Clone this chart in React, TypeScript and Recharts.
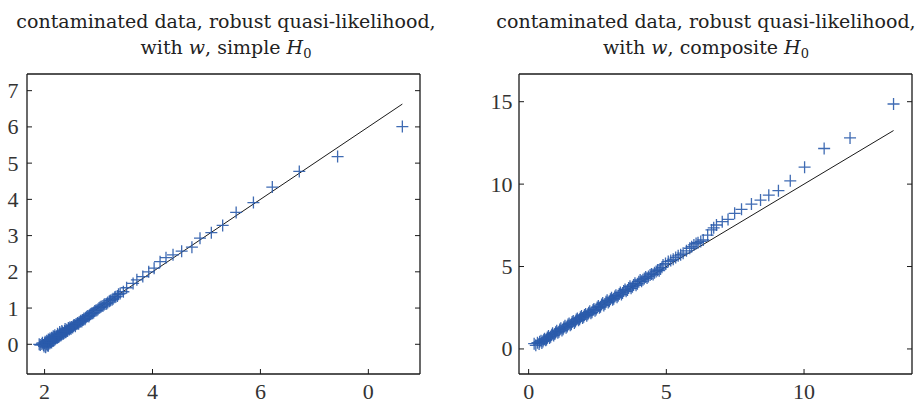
import React from 'react';
import { ScatterChart, Scatter, XAxis, YAxis, ReferenceLine } from 'recharts';

// left panel: simple H0 (sparser sample + extra points in the dense band)
const leftX = [
  1.90, 1.95, 1.98, 2.00, 2.02, 2.03, 2.05, 2.06, 2.08, 2.09, 2.11, 2.12, 2.14, 2.15, 2.17, 2.18,
  2.20, 2.22, 2.23, 2.25, 2.27, 2.29, 2.31, 2.33, 2.35, 2.37, 2.39, 2.41, 2.43, 2.45, 2.48, 2.50,
  2.53, 2.55, 2.58, 2.61, 2.64, 2.67, 2.70, 2.73, 2.76, 2.80, 2.83, 2.87, 2.91, 2.95, 2.99, 3.03,
  3.08, 3.12, 3.17, 3.22, 3.27, 3.32, 3.37, 3.40, 3.46, 3.52, 3.64, 3.71, 3.82, 3.93, 4.03, 4.14,
  4.25, 4.38, 4.54, 4.73, 4.88, 5.09, 5.30, 5.55, 5.87, 6.22, 6.72, 7.43, 8.63,
];
const leftY = [
  0.00, 0.01, -0.02, 0.03, -0.08, 0.05, -0.03, 0.08, 0.02, 0.12, 0.06, 0.14, 0.09, 0.17, 0.12, 0.20,
  0.16, 0.21, 0.18, 0.26, 0.22, 0.30, 0.27, 0.33, 0.30, 0.37, 0.33, 0.40, 0.38, 0.43, 0.44, 0.48,
  0.50, 0.53, 0.55, 0.59, 0.61, 0.65, 0.67, 0.71, 0.73, 0.78, 0.80, 0.85, 0.88, 0.93, 0.97, 1.02,
  1.06, 1.11, 1.15, 1.21, 1.26, 1.31, 1.38, 1.40, 1.45, 1.56, 1.68, 1.78, 1.87, 2.00, 2.10, 2.28,
  2.39, 2.47, 2.57, 2.68, 2.93, 3.08, 3.28, 3.64, 3.91, 4.34, 4.77, 5.18, 6.01,
];
const leftX2 = [
  1.92, 1.96, 1.99, 2.01, 2.04, 2.04, 2.07, 2.07, 2.10, 2.10, 2.13, 2.13, 2.16, 2.16, 2.19, 2.19,
  2.21, 2.24, 2.24, 2.26, 2.28, 2.28, 2.30, 2.32, 2.32, 2.34, 2.36, 2.38, 2.38, 2.40, 2.42, 2.44,
  2.46, 2.47, 2.49, 2.52, 2.54, 2.57, 2.60, 2.63, 2.66, 2.69, 2.72, 2.75, 2.78, 2.82, 2.85, 2.89,
  2.93, 2.97, 3.01, 3.05, 3.10, 3.15, 3.20, 3.25, 3.30, 3.35,
];
const leftY2 = [
  -0.02, 0.04, -0.06, 0.07, 0.00, 0.10, -0.04, 0.13, 0.03, 0.16, 0.05, 0.18, 0.10, 0.22, 0.13, 0.25,
  0.17, 0.19, 0.29, 0.20, 0.25, 0.34, 0.24, 0.28, 0.37, 0.29, 0.31, 0.35, 0.42, 0.35, 0.37, 0.45,
  0.41, 0.47, 0.43, 0.46, 0.52, 0.50, 0.56, 0.57, 0.62, 0.63, 0.68, 0.69, 0.76, 0.77, 0.83, 0.86,
  0.92, 0.94, 1.00, 1.04, 1.09, 1.12, 1.19, 1.23, 1.30, 1.33,
];
const leftLineX = [2.0, 8.63];
const leftLineY = [0.0, 6.63];
const leftXTicks = [2, 4, 6, 8];
const leftXLabels = ['2', '4', '6', '0'];
const leftYTicks = [0, 1, 2, 3, 4, 5, 6, 7];

// right panel: composite H0
const rightX = [
  0.20, 0.32, 0.38, 0.45, 0.52, 0.58, 0.65, 0.72, 0.80, 0.87, 0.95, 1.02, 1.10, 1.17, 1.25, 1.32,
  1.40, 1.47, 1.55, 1.62, 1.70, 1.77, 1.85, 1.92, 2.00, 2.07, 2.15, 2.22, 2.30, 2.37, 2.45, 2.53,
  2.61, 2.69, 2.77, 2.85, 2.93, 3.01, 3.09, 3.17, 3.25, 3.33, 3.41, 3.50, 3.59, 3.68, 3.77, 3.86,
  3.95, 4.05, 4.15, 4.25, 4.35, 4.46, 4.57, 4.68, 4.79, 4.88, 5.07, 5.25, 5.43, 5.61, 5.85, 6.00,
  6.15, 6.34, 6.64, 6.82, 7.03, 7.24, 7.48, 7.73, 8.09, 8.42, 8.72, 9.07, 9.50, 10.02, 10.73, 11.67,
  13.25,
];
const rightY = [
  0.32, 0.38, 0.30, 0.50, 0.45, 0.62, 0.58, 0.78, 0.74, 0.95, 0.90, 1.10, 1.05, 1.25, 1.20, 1.40,
  1.36, 1.55, 1.50, 1.70, 1.66, 1.85, 1.80, 2.00, 1.95, 2.12, 2.10, 2.28, 2.22, 2.42, 2.40, 2.60,
  2.56, 2.78, 2.72, 2.95, 2.90, 3.10, 3.05, 3.25, 3.22, 3.42, 3.40, 3.60, 3.58, 3.80, 3.78, 3.98,
  3.96, 4.18, 4.20, 4.36, 4.40, 4.55, 4.62, 4.78, 4.85, 5.10, 5.30, 5.44, 5.65, 5.81, 6.11, 6.31,
  6.45, 6.61, 7.22, 7.52, 7.72, 7.86, 8.23, 8.47, 8.79, 9.03, 9.33, 9.60, 10.20, 11.03, 12.16, 12.80,
  14.86,
];
const rightX2 = [
  0.26, 0.40, 0.48, 0.55, 0.62, 0.68, 0.76, 0.84, 0.91, 0.98, 1.06, 1.13, 1.21, 1.28, 1.36, 1.43,
  1.51, 1.58, 1.66, 1.73, 1.81, 1.88, 1.96, 2.03, 2.11, 2.18, 2.26, 2.34, 2.41, 2.49, 2.57, 2.65,
  2.73, 2.81, 2.89, 2.97, 3.05, 3.13, 3.21, 3.29, 3.37, 3.45, 3.54, 3.63, 3.72, 3.81, 3.90, 4.00,
  4.10, 4.20, 4.30, 4.41, 4.52, 4.63, 4.74, 4.84, 4.97, 5.16, 5.34, 5.52, 5.73, 5.92, 6.08, 6.25,
  6.50, 6.72,
];
const rightY2 = [
  0.22, 0.44, 0.36, 0.56, 0.52, 0.70, 0.66, 0.86, 0.82, 1.02, 0.98, 1.18, 1.12, 1.32, 1.28, 1.48,
  1.44, 1.63, 1.58, 1.78, 1.74, 1.93, 1.88, 2.06, 2.02, 2.20, 2.16, 2.36, 2.32, 2.52, 2.50, 2.70,
  2.64, 2.86, 2.82, 3.02, 2.98, 3.18, 3.14, 3.34, 3.30, 3.52, 3.50, 3.70, 3.68, 3.88, 3.87, 4.08,
  4.10, 4.28, 4.30, 4.48, 4.52, 4.70, 4.75, 4.95, 5.18, 5.36, 5.55, 5.72, 5.95, 6.20, 6.40, 6.52,
  6.90, 7.35,
];
const rightLineX = [0.35, 13.25];
const rightLineY = [0.35, 13.25];
const rightXTicks = [0, 5, 10];
const rightXLabels = ['0', '5', '10'];
const rightYTicks = [0, 5, 10, 15];

const BLUE = '#2a5bab';
const INK = '#1a1a1a';
const TICK_FONT = '"Liberation Serif", "Times New Roman", serif';
const TITLE_FONT = '"DejaVu Serif", serif';

const Cross = (props: any) => {
  const { cx, cy } = props;
  if (cx == null || cy == null) return null;
  const s = 6;
  return (
    <path
      d={`M${cx - s},${cy}H${cx + s}M${cx},${cy - s}V${cy + s}`}
      stroke={BLUE}
      strokeWidth={1.3}
      strokeOpacity={0.9}
      fill="none"
    />
  );
};

const makeTick = (side: 'bottom' | 'left' | 'top' | 'right', labelOf?: (v: number) => string, gap = 8) =>
  (props: any) => {
    const { x, y, payload } = props;
    const len = 5;
    let line;
    if (side === 'bottom') line = <line x1={x} x2={x} y1={y} y2={y - len} stroke={INK} />;
    else if (side === 'top') line = <line x1={x} x2={x} y1={y} y2={y + len} stroke={INK} />;
    else if (side === 'left') line = <line x1={x} x2={x + len} y1={y} y2={y} stroke={INK} />;
    else line = <line x1={x} x2={x - len} y1={y} y2={y} stroke={INK} />;
    let text = null;
    if (labelOf && side === 'bottom') {
      text = (
        <text x={x} y={y + 25} textAnchor="middle" fontSize={22} fontFamily={TICK_FONT} fill="#333">
          {labelOf(payload.value)}
        </text>
      );
    } else if (labelOf && side === 'left') {
      text = (
        <text x={x - gap} y={y + 7.5} textAnchor="end" fontSize={22} fontFamily={TICK_FONT} fill="#333">
          {labelOf(payload.value)}
        </text>
      );
    }
    return (
      <g>
        {line}
        {text}
      </g>
    );
  };

interface PanelProps {
  xs: number[];
  ys: number[];
  lineX: number[];
  lineY: number[];
  xDomain: [number, number];
  yDomain: [number, number];
  xTicks: number[];
  xLabels: string[];
  yTicks: number[];
  leftW: number;
  rightW: number;
  labelGap: number;
}

const Panel: React.FC<PanelProps> = ({ xs, ys, lineX, lineY, xDomain, yDomain, xTicks, xLabels, yTicks, leftW, rightW, labelGap }) => {
  const points = xs.map((x, i) => ({ x, y: ys[i] }));
  const xLabel = (v: number) => xLabels[xTicks.indexOf(v)] ?? String(v);
  const axisLine = { stroke: INK, strokeWidth: 1.3 };
  return (
    <ScatterChart width={461} height={402} margin={{ top: 0, right: 0, bottom: 0, left: 0 }}>
      <XAxis
        xAxisId={0}
        type="number"
        dataKey="x"
        domain={xDomain}
        ticks={xTicks}
        allowDataOverflow
        height={28}
        tickSize={0}
        tickMargin={0}
        axisLine={axisLine}
        tickLine={false}
        tick={makeTick('bottom', xLabel)}
        interval={0}
      />
      <XAxis
        xAxisId="top"
        orientation="top"
        type="number"
        domain={xDomain}
        ticks={xTicks}
        allowDataOverflow
        height={74}
        tickSize={0}
        tickMargin={0}
        axisLine={axisLine}
        tickLine={false}
        tick={makeTick('top')}
        interval={0}
      />
      <YAxis
        yAxisId={0}
        type="number"
        dataKey="y"
        domain={yDomain}
        ticks={yTicks}
        allowDataOverflow
        width={leftW}
        tickSize={0}
        tickMargin={0}
        axisLine={axisLine}
        tickLine={false}
        tick={makeTick('left', (v) => String(v), labelGap)}
        interval={0}
      />
      <YAxis
        yAxisId="right"
        orientation="right"
        type="number"
        domain={yDomain}
        ticks={yTicks}
        allowDataOverflow
        width={rightW}
        tickSize={0}
        tickMargin={0}
        axisLine={axisLine}
        tickLine={false}
        tick={makeTick('right')}
        interval={0}
      />
      <ReferenceLine
        xAxisId={0}
        yAxisId={0}
        segment={[
          { x: lineX[0], y: lineY[0] },
          { x: lineX[1], y: lineY[1] },
        ]}
        stroke={INK}
        strokeWidth={1}
      />
      <Scatter data={points} xAxisId={0} yAxisId={0} shape={<Cross />} isAnimationActive={false} />
    </ScatterChart>
  );
};

const Title: React.FC<{ cx: number; kind: string }> = ({ cx, kind }) => (
  <g fontFamily={TITLE_FONT} fontSize={19} fill="#222" textAnchor="middle">
    <text x={cx} y={28}>contaminated data, robust quasi-likelihood,</text>
    <text x={cx} y={54}>
      with <tspan fontStyle="italic">w</tspan>, {kind} <tspan fontStyle="italic">H</tspan>
      <tspan fontSize={13} dy={4}>0</tspan>
    </text>
  </g>
);

export default function App() {
  return (
    <div style={{ position: 'absolute', left: 0, top: 0, width: 922, height: 402, background: '#fff', overflow: 'hidden' }}>
      <div style={{ position: 'absolute', left: 0, top: 0 }}>
        <Panel
          xs={[...leftX, ...leftX2]}
          ys={[...leftY, ...leftY2]}
          lineX={leftLineX}
          lineY={leftLineY}
          xDomain={[1.674, 8.957]}
          yDomain={[-0.82, 7.46]}
          xTicks={leftXTicks}
          xLabels={leftXLabels}
          yTicks={leftYTicks}
          leftW={27}
          rightW={41}
          labelGap={8.5}
        />
      </div>
      <div style={{ position: 'absolute', left: 461, top: 0 }}>
        <Panel
          xs={[...rightX, ...rightX2]}
          ys={[...rightY, ...rightY2]}
          lineX={rightLineX}
          lineY={rightLineY}
          xDomain={[-0.35, 13.92]}
          yDomain={[-1.52, 16.68]}
          xTicks={rightXTicks}
          xLabels={rightXLabels}
          yTicks={rightYTicks}
          leftW={58}
          rightW={10}
          labelGap={6.5}
        />
      </div>
      <svg width={922} height={70} style={{ position: 'absolute', left: 0, top: 0 }}>
        <Title cx={226} kind="simple" />
        <Title cx={706} kind="composite" />
      </svg>
    </div>
  );
}
